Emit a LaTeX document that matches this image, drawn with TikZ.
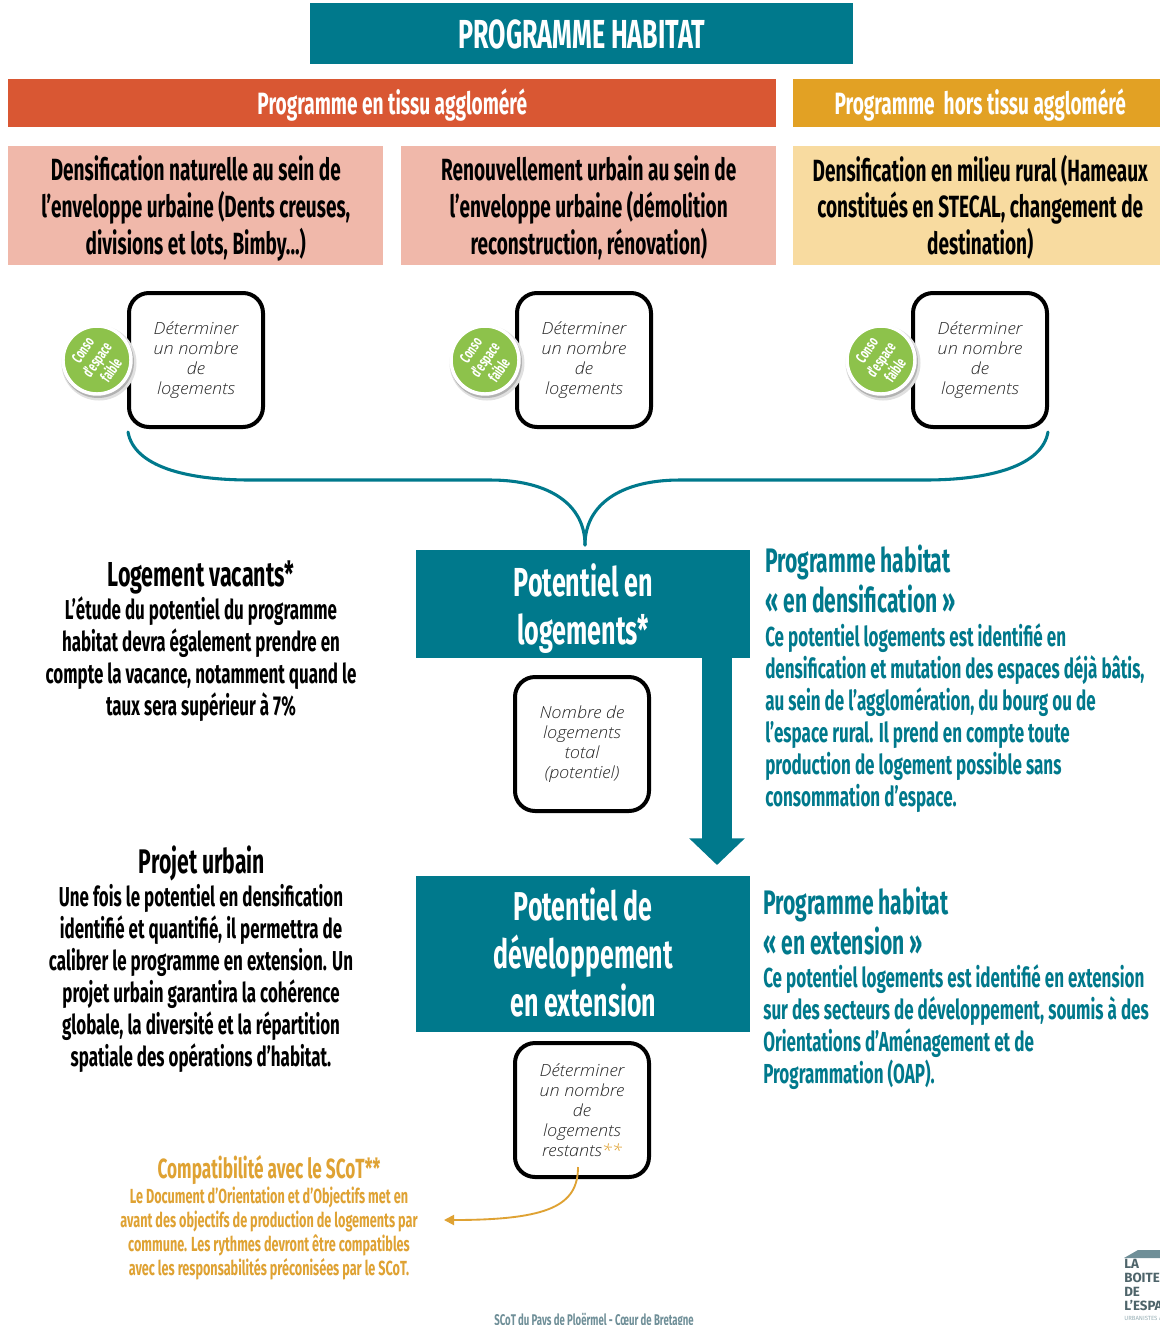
\documentclass[tikz,border=0pt]{standalone}
\usepackage{fontspec}
\usetikzlibrary{arrows.meta,calc}
\setmainfont{Fira Sans}
\newfontfamily\disp[FakeStretch=0.62,BoldFont={Fira Sans Bold}]{Fira Sans}
\newfontfamily\ital[FakeStretch=1.08]{Open Sans Light Italic}
\definecolor{tealc}{HTML}{00798C}
\definecolor{redc}{HTML}{D95733}
\definecolor{goldc}{HTML}{E2A124}
\definecolor{pinkc}{HTML}{F0B8AA}
\definecolor{yelc}{HTML}{F8DBA0}
\definecolor{greenc}{HTML}{8DC24B}
\definecolor{goldt}{HTML}{DFA233}
\definecolor{footc}{HTML}{6F8F98}
\newcommand{\fs}[2]{\fontsize{#1}{#2}\selectfont}
\newcommand{\dn}[2]{\raisebox{-#1}[\height][\depth]{\begin{tabular}{@{}c@{}}#2\end{tabular}}}
\tikzset{
 band/.style={minimum height=0pt,inner sep=0pt,text=white,align=center,font=\disp\bfseries},
 txt/.style={inner sep=0pt,align=center,font=\disp\bfseries},
 rtxt/.style={inner sep=0pt,align=left,text=tealc,font=\disp\bfseries,anchor=north west},
 detbox/.style={draw=black,line width=3pt,rounded corners=15pt,minimum width=100.5pt,minimum height=100.5pt,inner sep=0pt,align=center,font=\ital\fs{12.5}{15},text=black!85,fill=white},
 conso/.style={circle,fill=greenc,draw=white,line width=2.6pt,minimum size=51pt,inner sep=0pt},
 consot/.style={inner sep=0pt,rotate=55,text=white,align=center,font=\disp\bfseries\fs{11.6}{13}},
 link/.style={draw=tealc,line width=2.3pt,line cap=round}
}
\begin{document}
\begin{tikzpicture}[x=0.75pt,y=-0.75pt]
\useasboundingbox (0,0) rectangle (1160,1325);
\fill[white] (0,0) rectangle (1160,1325);
% bands
\node[band,fill=tealc,minimum width=407.25pt,minimum height=45.75pt,anchor=north west,font=\disp\bfseries\fs{30.4}{32}] (title) at (310,3) {\dn{4.5pt}{PROGRAMME HABITAT}};
\node[band,fill=redc,minimum width=576pt,minimum height=36pt,anchor=north west,font=\disp\bfseries\fs{23.1}{25}] (prog1) at (8,79) {\dn{2.2pt}{Programme en tissu aggloméré}};
\node[band,fill=goldc,minimum width=280.5pt,minimum height=36pt,anchor=north west,font=\disp\bfseries\fs{23.1}{25}] (prog2) at (793,79) {\dn{2.2pt}{Programme\ \ hors tissu aggloméré}};
\node[band,fill=pinkc,text=black,minimum width=281.25pt,minimum height=89.25pt,anchor=north west,font=\disp\bfseries\fs{23}{27}] (a) at (8,146) {\dn{3.2pt}{Densification naturelle au sein de\\l’enveloppe urbaine (Dents creuses,\\divisions et lots, Bimby...)}};
\node[band,fill=pinkc,text=black,minimum width=281.25pt,minimum height=89.25pt,anchor=north west,font=\disp\bfseries\fs{23}{27}] (b) at (401,146) {\dn{3.2pt}{Renouvellement urbain au sein de\\l’enveloppe urbaine (démolition\\reconstruction, rénovation)}};
\node[band,fill=yelc,text=black,minimum width=280.5pt,minimum height=89.25pt,anchor=north west,font=\disp\bfseries\fs{23}{27}] (c) at (793,146) {\dn{3.2pt}{Densification en milieu rural (Hameaux\\constitués en STECAL, changement de\\destination)}};
% det boxes
\node[detbox] (d1) at (196,360) {Déterminer\\un nombre\\de\\logements};
\node[detbox] (d2) at (584,360) {Déterminer\\un nombre\\de\\logements};
\node[detbox] (d3) at (980,360) {Déterminer\\un nombre\\de\\logements};
% conso badges
\foreach \n/\x in {c1/97,c2/485,c3/881}{
 \fill[black!12] (\x+2,363) circle (37.5);
 \fill[black!30] (\x+1,362) circle (36);
 \node[conso] (\n) at (\x,360) {};
 \node[consot] (\n t) at (\n) {Conso\\d’espace\\faible};
}
% teal blocks
\node[band,fill=tealc,minimum width=250.5pt,minimum height=81pt,anchor=north west,font=\disp\bfseries\fs{30.4}{36}] (p1) at (416,550) {\dn{5.2pt}{Potentiel en\\logements*}};
\node[band,fill=tealc,minimum width=250.5pt,minimum height=117pt,anchor=north west,font=\disp\bfseries\fs{30.2}{36}] (p2) at (416,876) {\dn{3.8pt}{Potentiel de\\développement\\en extension}};
\node[detbox] (n) at (582,744) {Nombre de\\logements\\total\\(potentiel)};
\node[detbox] (r) at (582,1110) {Déterminer\\un nombre\\de\\logements\\restants{\color{goldt}**}};
% brace connectors
\coordinate (bl) at (128,432);
\coordinate (br) at (1048,432);
\coordinate (bm) at (585,545);
\draw[link] (bl) .. controls (134,466) and (185,480) .. (250,480) -- (490,480) .. controls (550,480) and (585,505) .. (bm);
\draw[link] (br) .. controls (1042,466) and (990,480) .. (925,480) -- (680,480) .. controls (620,480) and (585,505) .. (bm);
% big arrow
\draw[tealc,line width=22.5pt,-{Triangle[length=20pt,width=40.5pt]}] ($(p1.south -| 717,0)+(0,-2)$) -- ($(p2.north -| 717,0)+(0,-11)$);
% left texts
\node[txt,anchor=north,font=\disp\bfseries\fs{26}{24}] (lv) at (201,561) {Logement vacants*};
\node[txt,anchor=north,font=\disp\bfseries\fs{20.5}{24}] (lvt) at (201,596) {L’étude du potentiel du programme\\habitat devra également prendre en\\compte la vacance, notamment quand le\\taux sera supérieur à 7\%};
\node[txt,anchor=north,font=\disp\bfseries\fs{25.6}{24}] (pu) at (202,846) {Projet urbain};
\node[txt,anchor=north,font=\disp\bfseries\fs{20.5}{24}] (put) at (201,884) {Une fois le potentiel en densification\\identifié et quantifié, il permettra de\\calibrer le programme en extension. Un\\projet urbain garantira la cohérence\\globale, la diversité et la répartition\\spatiale des opérations d’habitat.};
% right texts
\node[rtxt,font=\disp\bfseries\fs{25.5}{30}] (rh1) at (765,545) {Programme habitat\\« en densification »};
\node[rtxt,font=\disp\bfseries\fs{20.6}{24}] (rt1) at (765,623) {Ce potentiel logements est identifié en\\densification et mutation des espaces déjà bâtis,\\au sein de l’agglomération, du bourg ou de\\l’espace rural. Il prend en compte toute\\production de logement possible sans\\consommation d’espace.};
\node[rtxt,font=\disp\bfseries\fs{25.5}{30}] (rh2) at (763,887) {Programme habitat\\« en extension »};
\node[rtxt,font=\disp\bfseries\fs{20.6}{24}] (rt2) at (763,964) {Ce potentiel logements est identifié en extension\\sur des secteurs de développement, soumis à des\\Orientations d’Aménagement et de\\Programmation (OAP).};
% compat
\node[txt,anchor=north,text=goldt,font=\disp\bfseries\fs{20.8}{20}] (sh) at (269,1155) {Compatibilité avec le SCoT**};
\node[txt,anchor=north,text=goldt,font=\disp\bfseries\fs{15.3}{18}] (st) at (269,1187) {Le Document d’Orientation et d’Objectifs met en\\avant des objectifs de production de logements par\\commune. Les rythmes devront être compatibles\\avec les responsabilités préconisées par le SCoT.};
\coordinate (rs) at (578,1167);
\coordinate (ra) at (444,1220);
\draw[goldt,line width=1.4pt,-{Triangle[length=7.5pt,width=7.5pt]}] (rs) .. controls (578,1205) and (550,1220) .. (ra);
% footer and logo
\node[txt,anchor=north,text=footc,font=\disp\bfseries\fs{11.6}{12}] (foot) at (594,1313) {SCoT du Pays de Ploërmel - Cœur de Bretagne};
\fill[footc] (1124,1258) -- (1138,1250) -- (1160,1250) -- (1160,1258) -- cycle;
\begin{scope}
\clip (1100,1240) rectangle (1160,1325);
\node[inner sep=0pt,anchor=north west,align=left,text=footc!70!black,font=\fontspec{Fira Sans}\bfseries\fs{10}{10.4}] (logo) at (1124,1259) {LA\\BOITE\\DE\\L’ESPACE};
\node[inner sep=0pt,anchor=north west,text=footc!70,font=\fontspec{Fira Sans}\fs{4.5}{5}] (logos) at (1124,1315) {URBANISTES ASSOCIÉS};
\end{scope}
\end{tikzpicture}
\end{document}
